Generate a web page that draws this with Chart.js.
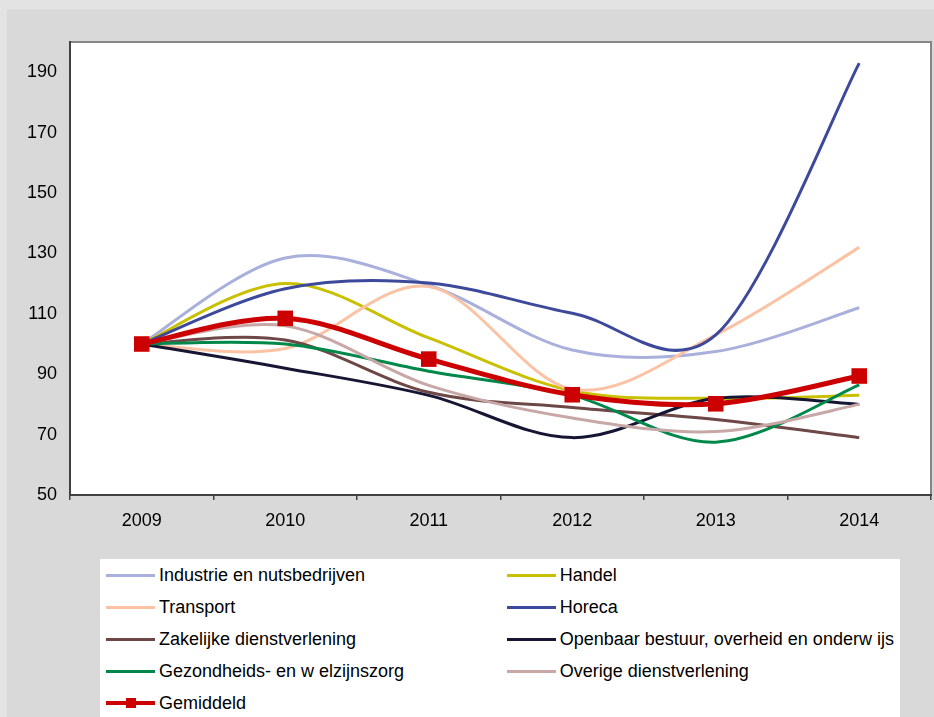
<!DOCTYPE html>
<html><head><meta charset="utf-8">
<script src="https://cdn.jsdelivr.net/npm/chart.js@4.4.1/dist/chart.umd.min.js"></script>
<style>
html,body{margin:0;padding:0;background:#e3e3e3;}
#wrap{position:relative;width:934px;height:717px;overflow:hidden;}
canvas{position:absolute;left:0;top:0;}
#legend{position:absolute;left:100px;top:559px;width:800px;height:158px;background:#fff;font-family:"Liberation Sans",Arial,sans-serif;font-size:18px;color:#000;}
.item{position:absolute;height:22px;display:flex;align-items:center;white-space:nowrap;}
.swatch{position:relative;width:49px;margin-right:4px;}
</style></head><body>
<div id="wrap"><canvas id="c" width="934" height="717"></canvas><div id="legend"></div></div>
<script>
const years = ['2009','2010','2011','2012','2013','2014'];
const yTicks = [50, 70, 90, 110, 130, 150, 170, 190];
const industrie  = [100, 128.5, 119.5, 98, 97.5, 112];
const handel     = [100, 120, 102, 84.5, 82, 83];
const transport  = [100, 98.5, 119, 85, 103, 132];
const horeca     = [100, 118.3, 120.2, 110.2, 103, 193];
const zakelijk   = [100, 101.3, 84, 79, 75, 69];
const openbaar   = [100, 92, 83, 69, 82, 80];
const gezondheid = [100, 100, 91, 83, 67.5, 86.5];
const overige    = [100, 106, 86.3, 75.5, 71, 80];
const gemiddeld  = [100, 108.5, 95, 83.2, 80.2, 89.4];

const names = ['Industrie en nutsbedrijven','Handel','Transport','Horeca','Zakelijke dienstverlening',
  'Openbaar bestuur, overheid en onderw ijs','Gezondheids- en w elzijnszorg','Overige dienstverlening','Gemiddeld'];
const colors = ['#aab0dc','#c8c000','#fbc3a4','#3d4a9b','#6e4747','#161634','#00884a','#c8a7a7','#cc0000'];
const series = [industrie, handel, transport, horeca, zakelijk, openbaar, gezondheid, overige, gemiddeld];

const datasets = series.map((d, i) => {
  const isAvg = i === series.length - 1;
  return {
    label: names[i],
    data: d,
    borderColor: colors[i],
    backgroundColor: colors[i],
    borderWidth: isAvg ? 5 : 3,
    tension: 0.4,
    fill: false,
    order: series.length - i,
    pointStyle: 'rect',
    pointRadius: isAvg ? 11 : 0,
    pointBorderWidth: 0,
    pointBackgroundColor: colors[i],
    pointBorderColor: colors[i]
  };
});

const catmull = {
  id: 'catmull',
  beforeDatasetDraw(chart, args) {
    const line = args.meta.dataset;
    if (!line) return;
    if (typeof line.updateControlPoints === 'function') line.updateControlPoints(chart.chartArea, 'x');
    const pts = line._points || line.points;
    if (!pts) return;
    for (let i = 0; i < pts.length; i++) {
      const p = pts[i], prev = pts[i - 1] || p, next = pts[i + 1] || p;
      const dx = (next.x - prev.x) / 6, dy = (next.y - prev.y) / 6;
      p.cp1x = p.x - dx; p.cp1y = p.y - dy; p.cp2x = p.x + dx; p.cp2y = p.y + dy;
    }
    line._path = undefined;
  }
};

const frame = {
  id: 'frame',
  beforeDraw(chart) {
    const ctx = chart.ctx, a = chart.chartArea;
    ctx.save();
    ctx.fillStyle = '#e3e3e3'; ctx.fillRect(0, 0, chart.width, chart.height);
    ctx.fillStyle = '#d9d9d9'; ctx.fillRect(7, 9, chart.width - 7, chart.height - 9);
    ctx.fillStyle = '#ffffff'; ctx.fillRect(a.left, a.top, a.right - a.left, a.bottom - a.top);
    ctx.restore();
  },
  afterDraw(chart) {
    const ctx = chart.ctx, a = chart.chartArea;
    ctx.save();
    ctx.lineWidth = 2;
    ctx.strokeStyle = '#858585';
    ctx.beginPath();
    ctx.moveTo(a.left, a.top); ctx.lineTo(a.right, a.top); ctx.lineTo(a.right, a.bottom);
    ctx.stroke();
    ctx.strokeStyle = '#404040';
    ctx.beginPath();
    ctx.moveTo(a.left, a.top - 1); ctx.lineTo(a.left, a.bottom); ctx.lineTo(a.right + 1, a.bottom);
    ctx.stroke();
    ctx.restore();
  }
};

const font = { family: '"Liberation Sans", Arial, sans-serif', size: 18 };

new Chart(document.getElementById('c'), {
  type: 'line',
  data: { labels: years, datasets },
  plugins: [frame, catmull],
  options: {
    responsive: false,
    animation: false,
    devicePixelRatio: 1,
    layout: { autoPadding: false, padding: { left: 0, top: 42, right: 3, bottom: 0 } },
    plugins: { legend: { display: false }, tooltip: { enabled: false } },
    scales: {
      x: {
        type: 'category',
        offset: true,
        border: { display: false },
        grid: { display: true, offset: true, drawOnChartArea: false, drawTicks: true, tickLength: 5, color: '#404040', lineWidth: 1.5 },
        ticks: { color: '#000', font, padding: 10, maxRotation: 0 },
        afterFit(s) { s.height = 222; s.paddingLeft = 0; s.paddingRight = 0; }
      },
      y: {
        min: 50, max: 200,
        border: { display: false },
        grid: { display: false, drawTicks: false },
        ticks: { color: '#000', font, padding: 13 },
        afterBuildTicks(s) { s.ticks = yTicks.map(v => ({ value: v })); },
        afterFit(s) { s.width = 70; s.paddingTop = 0; s.paddingBottom = 0; }
      }
    }
  }
});

// legend (row-major, two columns)
const legend = document.getElementById('legend');
const rowsY = [16.7, 48.3, 80.3, 112.7, 144.3];
const colX = [6, 406.7];
names.forEach((n, i) => {
  const row = Math.floor(i / 2), col = i % 2;
  const it = document.createElement('div');
  it.className = 'item';
  it.style.left = colX[col] + 'px';
  it.style.top = (rowsY[row] - 11) + 'px';
  const sw = document.createElement('div');
  sw.className = 'swatch';
  const isAvg = i === names.length - 1;
  const h = isAvg ? 4 : 3;
  sw.style.height = h + 'px';
  sw.style.background = colors[i];
  if (isAvg) {
    const m = document.createElement('div');
    m.style.cssText = 'position:absolute;left:20px;top:-3px;width:10px;height:10px;background:' + colors[i];
    sw.appendChild(m);
  }
  const tx = document.createElement('span');
  tx.textContent = n;
  it.appendChild(sw); it.appendChild(tx);
  legend.appendChild(it);
});
</script>
</body></html>
